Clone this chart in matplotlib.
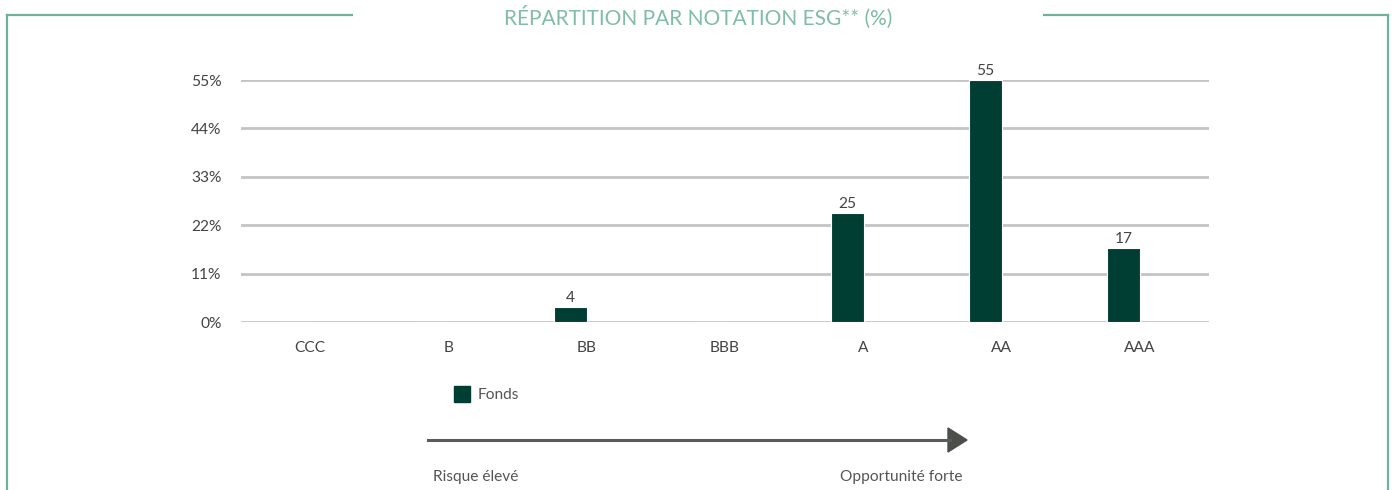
import matplotlib
matplotlib.use("Agg")
import matplotlib.pyplot as plt
from matplotlib.lines import Line2D
from matplotlib.patches import Rectangle, FancyArrow
import numpy as np

categories = ["CCC", "B", "BB", "BBB", "A", "AA", "AAA"]
fonds = [0, 0, 3.5, 0, 24.8, 55.0, 16.9]
yticks = [0, 11, 22, 33, 44, 55]
ytick_labels = ["0%", "11%", "22%", "33%", "44%", "55%"]
title = "RÉPARTITION PAR NOTATION ESG** (%)"
series_name = "Fonds"
left_label = "Risque élevé"
right_label = "Opportunité forte"

plt.rcParams['font.family'] = ['Lato', 'DejaVu Sans']

W, H = 1392, 490
fig = plt.figure(figsize=(W / 100, H / 100), dpi=100)

def fx(px):
    return px / W

def fy(py):
    return 1 - py / H

border = "#6fb29a"
fs = 11.2
# frame
fig.add_artist(Line2D([fx(7), fx(7)], [fy(15), fy(492)], color=border, lw=1.6))
fig.add_artist(Line2D([fx(1388), fx(1388)], [fy(15), fy(492)], color=border, lw=1.6))
fig.add_artist(Line2D([fx(7), fx(352)], [fy(15), fy(15)], color=border, lw=1.6))
fig.add_artist(Line2D([fx(1044), fx(1388)], [fy(15), fy(15)], color=border, lw=1.6))
fig.text(fx(698), fy(17), title, ha="center", va="center", color="#80bca7",
         fontsize=15)

ax = fig.add_axes([fx(241), fy(322), fx(1209) - fx(241), fy(80) - fy(322)])
x = np.arange(len(categories))
bw = 0.24
off = -0.116
ax.bar(x + off, fonds, width=bw, color="#003d32", edgecolor="white",
       linewidth=0.8, zorder=3)
for xi, v in zip(x, fonds):
    if v > 0:
        ax.text(xi + off, v + 0.4, f"{v:.0f}", ha="center", va="bottom",
                fontsize=fs, color="#444444", clip_on=False)

ax.set_xlim(-0.5, len(categories) - 0.5)
ax.set_ylim(0, 55)
ax.set_yticks(yticks)
ax.set_yticklabels(ytick_labels)
ax.set_xticks(x)
ax.set_xticklabels(categories)
ax.tick_params(axis="y", length=0, pad=14, labelsize=fs, labelcolor="#444444")
ax.tick_params(axis="x", length=0, pad=14, labelsize=fs, labelcolor="#444444")
ax.grid(axis="y", color="#c4c4c4", lw=2.0, zorder=0)
ax.set_axisbelow(True)
for s in ax.spines.values():
    s.set_visible(False)

# legend
fig.add_artist(Rectangle((fx(454), fy(402)), fx(16), fy(386) - fy(402),
                         color="#003d32", transform=fig.transFigure))
fig.text(fx(478), fy(395), series_name, ha="left", va="center", fontsize=fs,
         color="#555555")

# arrow
fig.add_artist(Line2D([fx(428), fx(950)], [fy(440), fy(440)], color="#5a5d57",
                      lw=2.2))
fig.add_artist(FancyArrow(fx(948), fy(440), fx(19), 0, width=0,
                          head_width=fy(428) - fy(452), head_length=fx(19),
                          length_includes_head=True, color="#4c4e4a",
                          transform=fig.transFigure))
fig.text(fx(433), fy(477), left_label, ha="left", va="center", fontsize=fs,
         color="#555555")
fig.text(fx(963), fy(477), right_label, ha="right", va="center", fontsize=fs,
         color="#555555")

fig.savefig("out.png", dpi=100)
